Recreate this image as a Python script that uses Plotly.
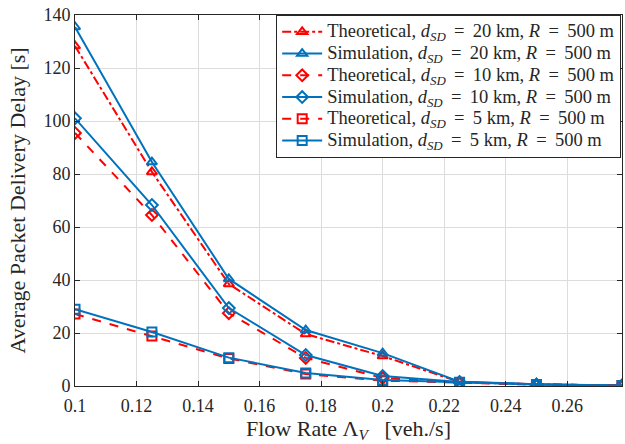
import plotly.graph_objects as go

# Flow rate values (veh./s)
flow_rate = [0.1, 0.125, 0.15, 0.175, 0.2, 0.225, 0.25, 0.2778]

# Average packet delivery delay (s)
theo_20km = [128.3, 80.8, 38.5, 19.6, 11.3, 1.5, 0.6, 0.2]
sim_20km = [135.5, 84.5, 40.4, 21.1, 12.4, 1.6, 0.7, 0.2]
theo_10km = [95.5, 64.5, 27.5, 10.6, 3.0, 1.4, 0.6, 0.2]
sim_10km = [101.0, 68.3, 29.4, 11.7, 3.8, 1.5, 0.6, 0.2]
theo_5km = [27.2, 18.9, 10.4, 4.5, 2.0, 1.3, 0.5, 0.2]
sim_5km = [29.0, 20.4, 10.7, 4.9, 2.3, 1.4, 0.6, 0.2]

x_ticks = [0.1, 0.12, 0.14, 0.16, 0.18, 0.2, 0.22, 0.24, 0.26]
x_tick_text = ["0.1", "0.12", "0.14", "0.16", "0.18", "0.2", "0.22", "0.24", "0.26"]
y_ticks = [0, 20, 40, 60, 80, 100, 120, 140]

RED = "#FF0000"
BLUE = "#0072BD"
FONT = "Liberation Serif"
THIN = "\u2009"

def label(kind, dist):
    eq = f"{THIN} = {THIN}"
    text = (f"{kind}, <i>d</i><sub><i>SD</i></sub>{eq}{dist} km, "
            f"<i>R</i>{eq}500 m")
    # larger glyphs inside a compact legend row
    return f"<span style='font-size:18.5px'>{text}</span>"

series = [
    (theo_20km, label("Theoretical", 20), RED, "dashdot", "triangle-up-open"),
    (sim_20km, label("Simulation", 20), BLUE, "solid", "triangle-up-open"),
    (theo_10km, label("Theoretical", 10), RED, "dash", "diamond-open"),
    (sim_10km, label("Simulation", 10), BLUE, "solid", "diamond-open"),
    (theo_5km, label("Theoretical", 5), RED, "dash", "square-open"),
    (sim_5km, label("Simulation", 5), BLUE, "solid", "square-open"),
]

fig = go.Figure()
for values, name, color, dash, symbol in series:
    fig.add_trace(go.Scatter(
        x=flow_rate, y=values, name=name, mode="lines+markers",
        line=dict(color=color, width=2, dash=dash),
        marker=dict(symbol=symbol, size=9, color=color,
                    line=dict(color=color, width=2)),
    ))

axis_common = dict(
    showgrid=True, gridcolor="#DCDCDC", gridwidth=1,
    showline=True, linecolor="#262626", linewidth=1, mirror="ticks",
    ticks="inside", ticklen=5, tickcolor="#262626",
    tickfont=dict(family=FONT, size=18, color="#262626"),
    zeroline=False,
)

fig.update_layout(
    width=625, height=444,
    margin=dict(l=75, r=3, t=15, b=58),
    paper_bgcolor="white", plot_bgcolor="white",
    font=dict(family=FONT, color="#262626"),
    xaxis=dict(
        range=[0.1, 0.2778], tickvals=x_ticks, ticktext=x_tick_text,
        ticklabelstandoff=3,
        title=dict(text="Flow Rate \u039b<sub><i>V</i></sub>\u2002 [veh./s]",
                   font=dict(family=FONT, size=22), standoff=5),
        **axis_common,
    ),
    yaxis=dict(
        range=[0, 140], tickvals=y_ticks,
        title=dict(text="Average Packet Delivery Delay [s]",
                   font=dict(family=FONT, size=22), standoff=11),
        **axis_common,
    ),
    legend=dict(
        x=0.9985, y=1.0, xanchor="right", yanchor="top",
        bgcolor="white", bordercolor="#262626", borderwidth=1,
        font=dict(family=FONT, size=14.4, color="#262626"),
        tracegroupgap=0, itemwidth=40,
    ),
)

fig.write_html("out.html")
